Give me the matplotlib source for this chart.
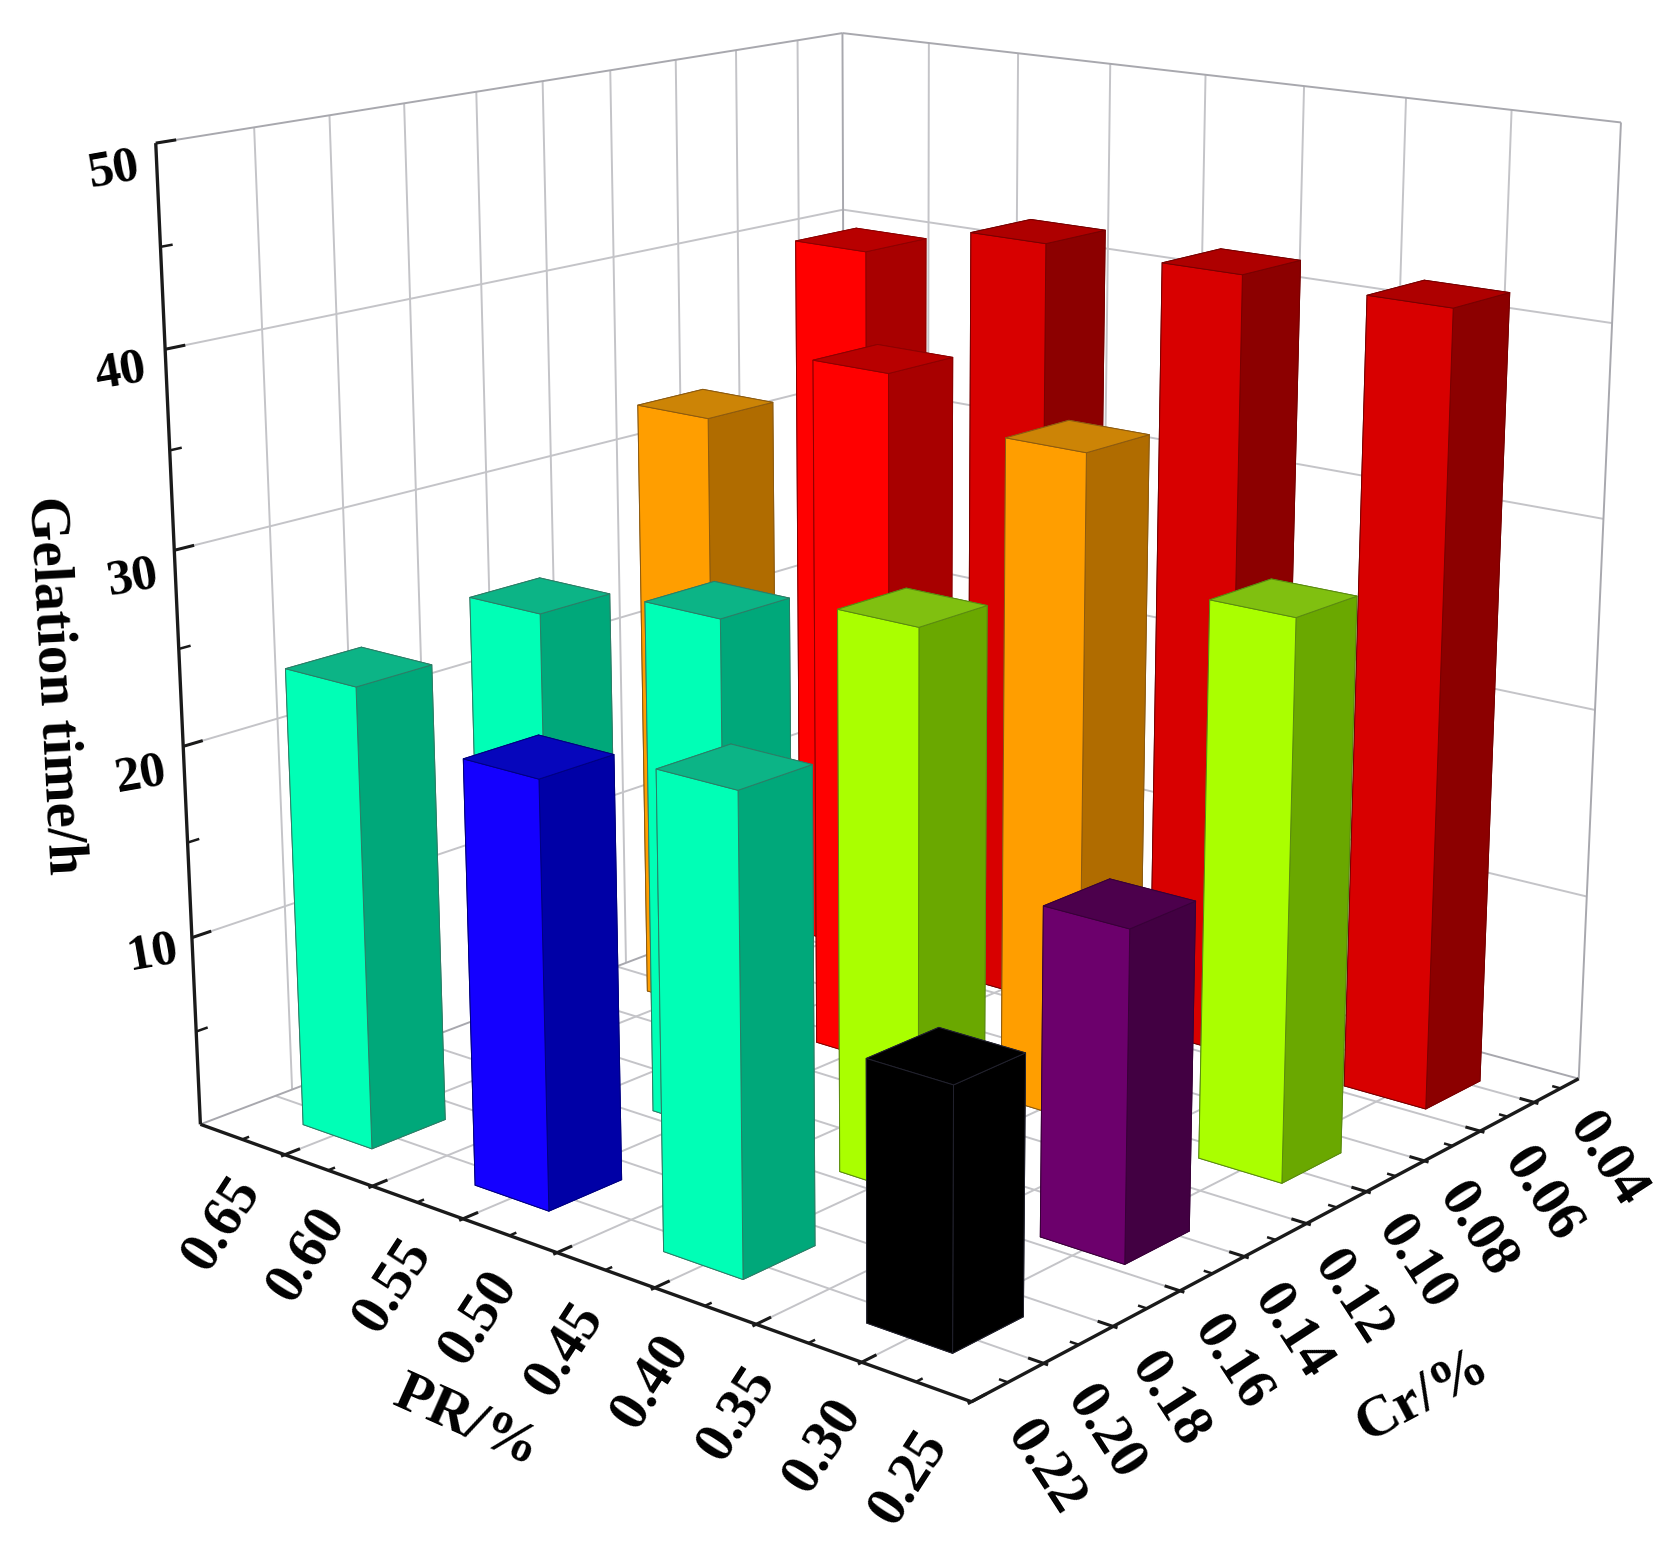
import matplotlib
matplotlib.use('Agg')
import matplotlib.pyplot as plt

plt.rcParams['font.family'] = ['Liberation Serif', 'DejaVu Serif']
plt.rcParams['font.weight'] = 'bold'

W, H = 1661, 1549

# bar positions and heights
pr_vals = [0.598, 0.5, 0.4, 0.3]
cr_vals = [0.207, 0.157, 0.107, 0.057]
gel_time = [[24.0, 21.8, 23.8, 12.8],
            [25.0, 26.9, 28.7, 16.6],
            [32.9, 37.0, 34.8, 28.7],
            [39.9, 41.8, 41.7, 41.6]]
bar_cols = [['teal', 'blue', 'teal', 'black'],
            ['teal', 'teal', 'green', 'purple'],
            ['orange', 'red', 'orange', 'green'],
            ['red', 'dkred', 'dkred', 'dkred']]

# front face, right face, top face
palette = {'teal': ('#00ffb6', '#00a87a', '#0cb486'),
           'blue': ('#1400ff', '#0000a6', '#0606bc'),
           'red': ('#ff0000', '#a80000', '#b80000'),
           'dkred': ('#d80000', '#8c0000', '#ae0000'),
           'orange': ('#ff9e00', '#b06c00', '#cc8406'),
           'green': ('#aaff00', '#6aa800', '#80c010'),
           'purple': ('#6c006c', '#420042', '#4c004c'),
           'black': ('#000000', '#000000', '#000000')}
edge_cols = {'teal': '#2c7d66', 'blue': '#000080', 'red': '#8c0000', 'dkred': '#780000',
             'orange': '#8c5a10', 'green': '#5a8a10', 'purple': '#380038', 'black': '#22222e'}

xmin, xmax = 0.25, 0.65
ymin, ymax = 0.033, 0.23
zmin, zmax = 0, 50
pr_major = [0.30, 0.35, 0.40, 0.45, 0.50, 0.55, 0.60]
pr_minor = [0.275, 0.325, 0.375, 0.425, 0.475, 0.525, 0.575, 0.625]
cr_major = [0.05, 0.07, 0.09, 0.11, 0.13, 0.15, 0.17, 0.19, 0.21]
cr_minor = [0.04, 0.06, 0.08, 0.10, 0.12, 0.14, 0.16, 0.18, 0.20, 0.22]
# verticals on the left wall sit a little off the floor ticks in the picture
cr_wall = [0.048, 0.068, 0.087, 0.107, 0.127, 0.146, 0.166, 0.186, 0.2055]
z_major = [10, 20, 30, 40]
z_minor = [5, 15, 25, 35, 45]

pr_labels = ['0.65', '0.60', '0.55', '0.50', '0.45', '0.40', '0.35', '0.30', '0.25']
pr_label_xy = [(222, 1223), (307, 1254), (393, 1285), (479, 1317), (565, 1349),
               (651, 1381), (737, 1413), (823, 1445), (909, 1477)]
cr_labels = ['0.22', '0.20', '0.18', '0.16', '0.14', '0.12', '0.10', '0.08', '0.06', '0.04']
cr_label_xy = [(1045, 1468), (1105, 1433), (1169, 1400), (1232, 1363), (1292, 1332),
               (1352, 1298), (1416, 1263), (1477, 1230), (1542, 1195), (1607, 1160)]
z_labels = ['50', '40', '30', '20', '10']
z_label_xy = [(114, 170), (120, 372), (133, 578), (141, 775), (153, 953)]

fig = plt.figure(figsize=(W / 100, H / 100), dpi=100)
ax = fig.add_axes([29.5 / W, 47.9 / H, 1693 / W, 1693 / H], projection='3d')
ax.computed_zorder = False
ax.set_xlim(xmin, xmax)
ax.set_ylim(ymin, ymax)
ax.set_zlim(zmin, zmax)
ax.view_init(elev=15.5, azim=129.891)
ax.set_proj_type('persp', focal_length=0.48)
ax.set_box_aspect((1.004, 1.004, 1.0))
ax.set_axis_off()

grid_c = '#c4c4c8'
grid_w = 1.4


def line(xs, ys, zs, c=grid_c, lw=grid_w, zo=1):
    ax.plot(xs, ys, zs, color=c, lw=lw, zorder=zo, solid_capstyle='butt')


# grid on floor and the two walls
for x in pr_major:
    line([x, x], [ymin, ymax], [0, 0])
    line([x, x], [ymin, ymin], [zmin, zmax])
for y in cr_major:
    line([xmin, xmax], [y, y], [0, 0])
for y in cr_wall:
    line([xmax, xmax], [y, y], [zmin, zmax])
for z in z_major:
    line([xmin, xmax], [ymin, ymin], [z, z])
    line([xmax, xmax], [ymin, ymax], [z, z])

# box edges
edge_c = '#a8a8ae'
line([xmin, xmax], [ymin, ymin], [0, 0], c=edge_c)
line([xmax, xmax], [ymin, ymax], [0, 0], c=edge_c)
line([xmax, xmax], [ymin, ymin], [zmin, zmax], c=edge_c)
line([xmin, xmin], [ymin, ymin], [zmin, zmax], c=edge_c)
line([xmin, xmax], [ymin, ymin], [zmax, zmax], c=edge_c)
line([xmax, xmax], [ymin, ymax], [zmax, zmax], c=edge_c)

# black axes and ticks
ax_c = '#1a1a1a'
line([xmax, xmax], [ymax, ymax], [zmin, zmax], c=ax_c, lw=2.4, zo=2)
line([xmin, xmax], [ymax, ymax], [0, 0], c=ax_c, lw=2.4, zo=2)
line([xmin, xmin], [ymin, ymax], [0, 0], c=ax_c, lw=2.4, zo=2)
for z in z_major + [50]:
    line([xmax, xmax], [ymax, ymax - 0.005], [z, z], c=ax_c, lw=2.2, zo=2)
for z in z_minor:
    line([xmax, xmax], [ymax, ymax - 0.003], [z, z], c=ax_c, lw=1.8, zo=2)
for x in pr_major + [xmin]:
    line([x, x], [ymax + 0.001, ymax - 0.004], [0, 0], c=ax_c, lw=2.2, zo=2)
for x in pr_minor:
    line([x, x], [ymax, ymax - 0.0018], [0, 0], c=ax_c, lw=1.8, zo=2)
for y in cr_major:
    line([xmin - 0.002, xmin + 0.007], [y, y], [0, 0], c=ax_c, lw=2.2, zo=2)
for y in cr_minor:
    line([xmin, xmin + 0.004], [y, y], [0, 0], c=ax_c, lw=1.8, zo=2)

# bars, back row first so near bars cover far ones
wx, wy = 0.04, 0.02
for i in range(3, -1, -1):
    for j in range(4):
        name = bar_cols[i][j]
        front, side, top = palette[name]
        # order in bar3d: -z, +z, -y, +y, -x, +x
        faces = [front, top, front, front, side, side]
        ax.bar3d(pr_vals[j] - wx / 2, cr_vals[i] - wy / 2, 0, wx, wy, gel_time[i][j],
                 color=faces, shade=False, edgecolor=edge_cols[name],
                 linewidth=0.7, zorder=10 + (3 - i) * 4 + j)


def px_text(xy, s, **kw):
    fig.text(xy[0] / W, 1 - xy[1] / H, s, ha='center', va='center',
             rotation_mode='anchor', **kw)


for xy, s in zip(pr_label_xy, pr_labels):
    px_text(xy, s, fontsize=41, rotation=57)
for xy, s in zip(cr_label_xy, cr_labels):
    px_text(xy, s, fontsize=41, rotation=-57)
for xy, s in zip(z_label_xy, z_labels):
    px_text(xy, s, fontsize=37, rotation=10)

px_text((467, 1422), 'PR/%', fontsize=42, rotation=-24)
px_text((1422, 1396), 'Cr/%', fontsize=42, rotation=28)
px_text((54, 685), 'Gelation time/h', fontsize=41, rotation=-87)

fig.savefig('out.png', dpi=100)
